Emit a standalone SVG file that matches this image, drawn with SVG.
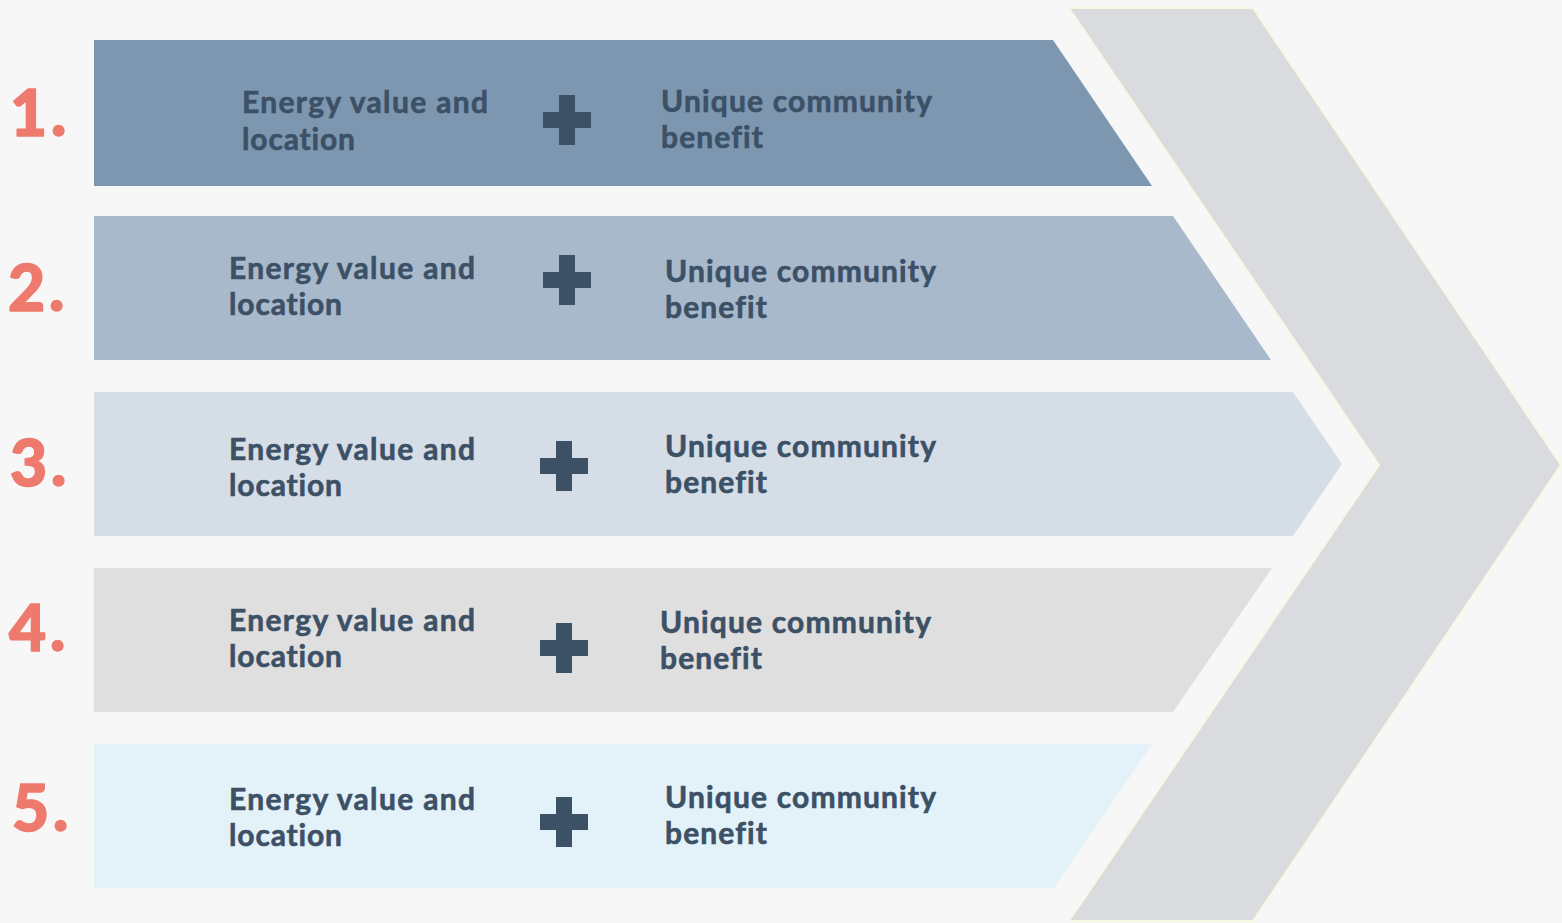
<svg xmlns="http://www.w3.org/2000/svg" width="1562" height="923" viewBox="0 0 1562 923">
  <style>
    .num { font-family: Lato, "Noto Sans", "Liberation Sans", sans-serif; font-weight: 900; font-size: 64px; fill: #ee7a6e; stroke: #ee7a6e; stroke-width: 1.6px; stroke-linejoin: round; letter-spacing: 4px; }
    .lbl { font-family: Lato, "Noto Sans", "Liberation Sans", sans-serif; font-weight: 700; font-size: 30px; fill: #3c5066; stroke: #3c5066; stroke-width: 0.6px; font-variant-ligatures: none; }
    .plus { fill: #3c5066; }
  </style>
  <defs>
    <path id="plusShape" d="M-8,-25 H8 V-8 H24 V8 H8 V25 H-8 V8 H-24 V-8 H-8 Z"/>
  </defs>
  <rect x="0" y="0" width="1562" height="923" fill="#f7f7f7"/>

  <g id="chevron">
    <polygon points="1069,8 1253,8 1561,465 1253,921 1069,921 1379,465" fill="#dadbde" stroke="#f8f8e2" stroke-width="2" stroke-linejoin="miter"/>
  </g>

  <g id="step1">
    <polygon points="94,40 1053,40 1152,186 94,186" fill="#7d97b0"/>
    <text class="num" x="10" y="136">1.</text>
    <text class="lbl" x="242" y="113" textLength="246" lengthAdjust="spacing">Energy value and</text>
    <text class="lbl" x="242" y="150" textLength="113" lengthAdjust="spacing">location</text>
    <use href="#plusShape" class="plus" x="567" y="120"/>
    <text class="lbl" x="661" y="112" textLength="271" lengthAdjust="spacing">Unique community</text>
    <text class="lbl" x="661" y="148" textLength="102" lengthAdjust="spacing">benefit</text>
  </g>

  <g id="step2">
    <polygon points="94,216 1173,216 1271,360 94,360" fill="#a8b9cb"/>
    <text class="num" x="8" y="311">2.</text>
    <text class="lbl" x="229" y="279" textLength="246" lengthAdjust="spacing">Energy value and</text>
    <text class="lbl" x="229" y="315" textLength="113" lengthAdjust="spacing">location</text>
    <use href="#plusShape" class="plus" x="567" y="280"/>
    <text class="lbl" x="665" y="282" textLength="271" lengthAdjust="spacing">Unique community</text>
    <text class="lbl" x="665" y="318" textLength="102" lengthAdjust="spacing">benefit</text>
  </g>

  <g id="step3">
    <polygon points="94,392 1293,392 1342,464 1293,536 94,536" fill="#d5dde6"/>
    <text class="num" x="10" y="486">3.</text>
    <text class="lbl" x="229" y="460" textLength="246" lengthAdjust="spacing">Energy value and</text>
    <text class="lbl" x="229" y="496" textLength="113" lengthAdjust="spacing">location</text>
    <use href="#plusShape" class="plus" x="564" y="466"/>
    <text class="lbl" x="665" y="457" textLength="271" lengthAdjust="spacing">Unique community</text>
    <text class="lbl" x="665" y="493" textLength="102" lengthAdjust="spacing">benefit</text>
  </g>

  <g id="step4">
    <polygon points="94,568 1272,568 1173,712 94,712" fill="#dfdfdf"/>
    <text class="num" x="9" y="651">4.</text>
    <text class="lbl" x="229" y="631" textLength="246" lengthAdjust="spacing">Energy value and</text>
    <text class="lbl" x="229" y="667" textLength="113" lengthAdjust="spacing">location</text>
    <use href="#plusShape" class="plus" x="564" y="648"/>
    <text class="lbl" x="660" y="633" textLength="271" lengthAdjust="spacing">Unique community</text>
    <text class="lbl" x="660" y="669" textLength="102" lengthAdjust="spacing">benefit</text>
  </g>

  <g id="step5">
    <polygon points="94,744 1152,744 1054,888 94,888" fill="#e3f2f8"/>
    <text class="num" x="12" y="831">5.</text>
    <text class="lbl" x="229" y="810" textLength="246" lengthAdjust="spacing">Energy value and</text>
    <text class="lbl" x="229" y="846" textLength="113" lengthAdjust="spacing">location</text>
    <use href="#plusShape" class="plus" x="564" y="822"/>
    <text class="lbl" x="665" y="808" textLength="271" lengthAdjust="spacing">Unique community</text>
    <text class="lbl" x="665" y="844" textLength="102" lengthAdjust="spacing">benefit</text>
  </g>

  <g id="connectors"></g>
</svg>
